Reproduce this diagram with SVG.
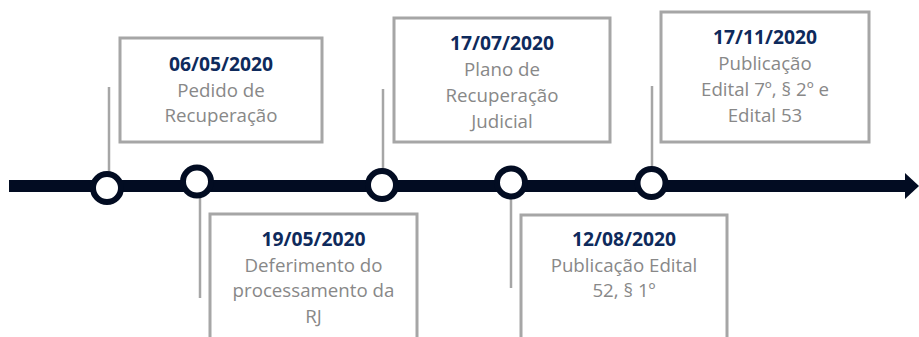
<svg xmlns="http://www.w3.org/2000/svg" width="919" height="337" viewBox="0 0 919 337">
<defs>
<style>
.box{fill:#ffffff;stroke:#a6a6a6;stroke-width:3}
.date{font-family:"Open Sans","Liberation Sans",sans-serif;font-weight:bold;font-size:19.3px;fill:#0e2a5c;text-anchor:middle}
.body{font-family:"Open Sans","Liberation Sans",sans-serif;font-size:18.7px;fill:#888888;text-anchor:middle}
.conn{stroke:#a6a6a6;stroke-width:2.5;fill:none}
.dot{fill:#ffffff;stroke:#020c22;stroke-width:6}
</style>
</defs>
<rect width="919" height="337" fill="#ffffff"/>
<g id="connectors">
<line class="conn" x1="109" y1="87" x2="109" y2="172"/>
<line class="conn" x1="200" y1="195" x2="200" y2="298"/>
<line class="conn" x1="383" y1="89" x2="383" y2="170"/>
<line class="conn" x1="511" y1="195" x2="511" y2="288"/>
<line class="conn" x1="652" y1="86" x2="652" y2="168"/>
</g>
<g id="timeline">
<line x1="9" y1="186" x2="908" y2="186" stroke="#020c22" stroke-width="12"/>
<polygon points="905,173 919,186 905,199" fill="#020c22"/>
<circle class="dot" cx="107" cy="188" r="14"/>
<circle class="dot" cx="197" cy="181.5" r="14"/>
<circle class="dot" cx="382" cy="185" r="14"/>
<circle class="dot" cx="511" cy="182.5" r="14"/>
<circle class="dot" cx="651.5" cy="183" r="14"/>
</g>
<g id="node1">
<rect class="box" x="120" y="38" width="202" height="104"/>
<text class="date" x="221" y="70.5">06/05/2020</text>
<text class="body" x="221" y="96.5">Pedido de</text>
<text class="body" x="221" y="122">Recuperação</text>
</g>
<g id="node2">
<rect class="box" x="210" y="214" width="207" height="140"/>
<text class="date" x="313.5" y="246">19/05/2020</text>
<text class="body" x="313.5" y="271.5">Deferimento do</text>
<text class="body" x="313.5" y="297">processamento da</text>
<text class="body" x="313.5" y="323">RJ</text>
</g>
<g id="node3">
<rect class="box" x="394" y="18" width="216" height="124"/>
<text class="date" x="502" y="50">17/07/2020</text>
<text class="body" x="502" y="76">Plano de</text>
<text class="body" x="502" y="101.5">Recuperação</text>
<text class="body" x="502" y="127.5">Judicial</text>
</g>
<g id="node4">
<rect class="box" x="521" y="215" width="206" height="140"/>
<text class="date" x="624" y="246">12/08/2020</text>
<text class="body" x="624" y="272">Publicação Edital</text>
<text class="body" x="624" y="297">52, § 1º</text>
</g>
<g id="node5">
<rect class="box" x="661" y="12" width="208" height="130"/>
<text class="date" x="765" y="43.5">17/11/2020</text>
<text class="body" x="765" y="69.5">Publicação</text>
<text class="body" x="765" y="95.5">Edital 7º, § 2º e</text>
<text class="body" x="765" y="121.5">Edital 53</text>
</g>
</svg>
